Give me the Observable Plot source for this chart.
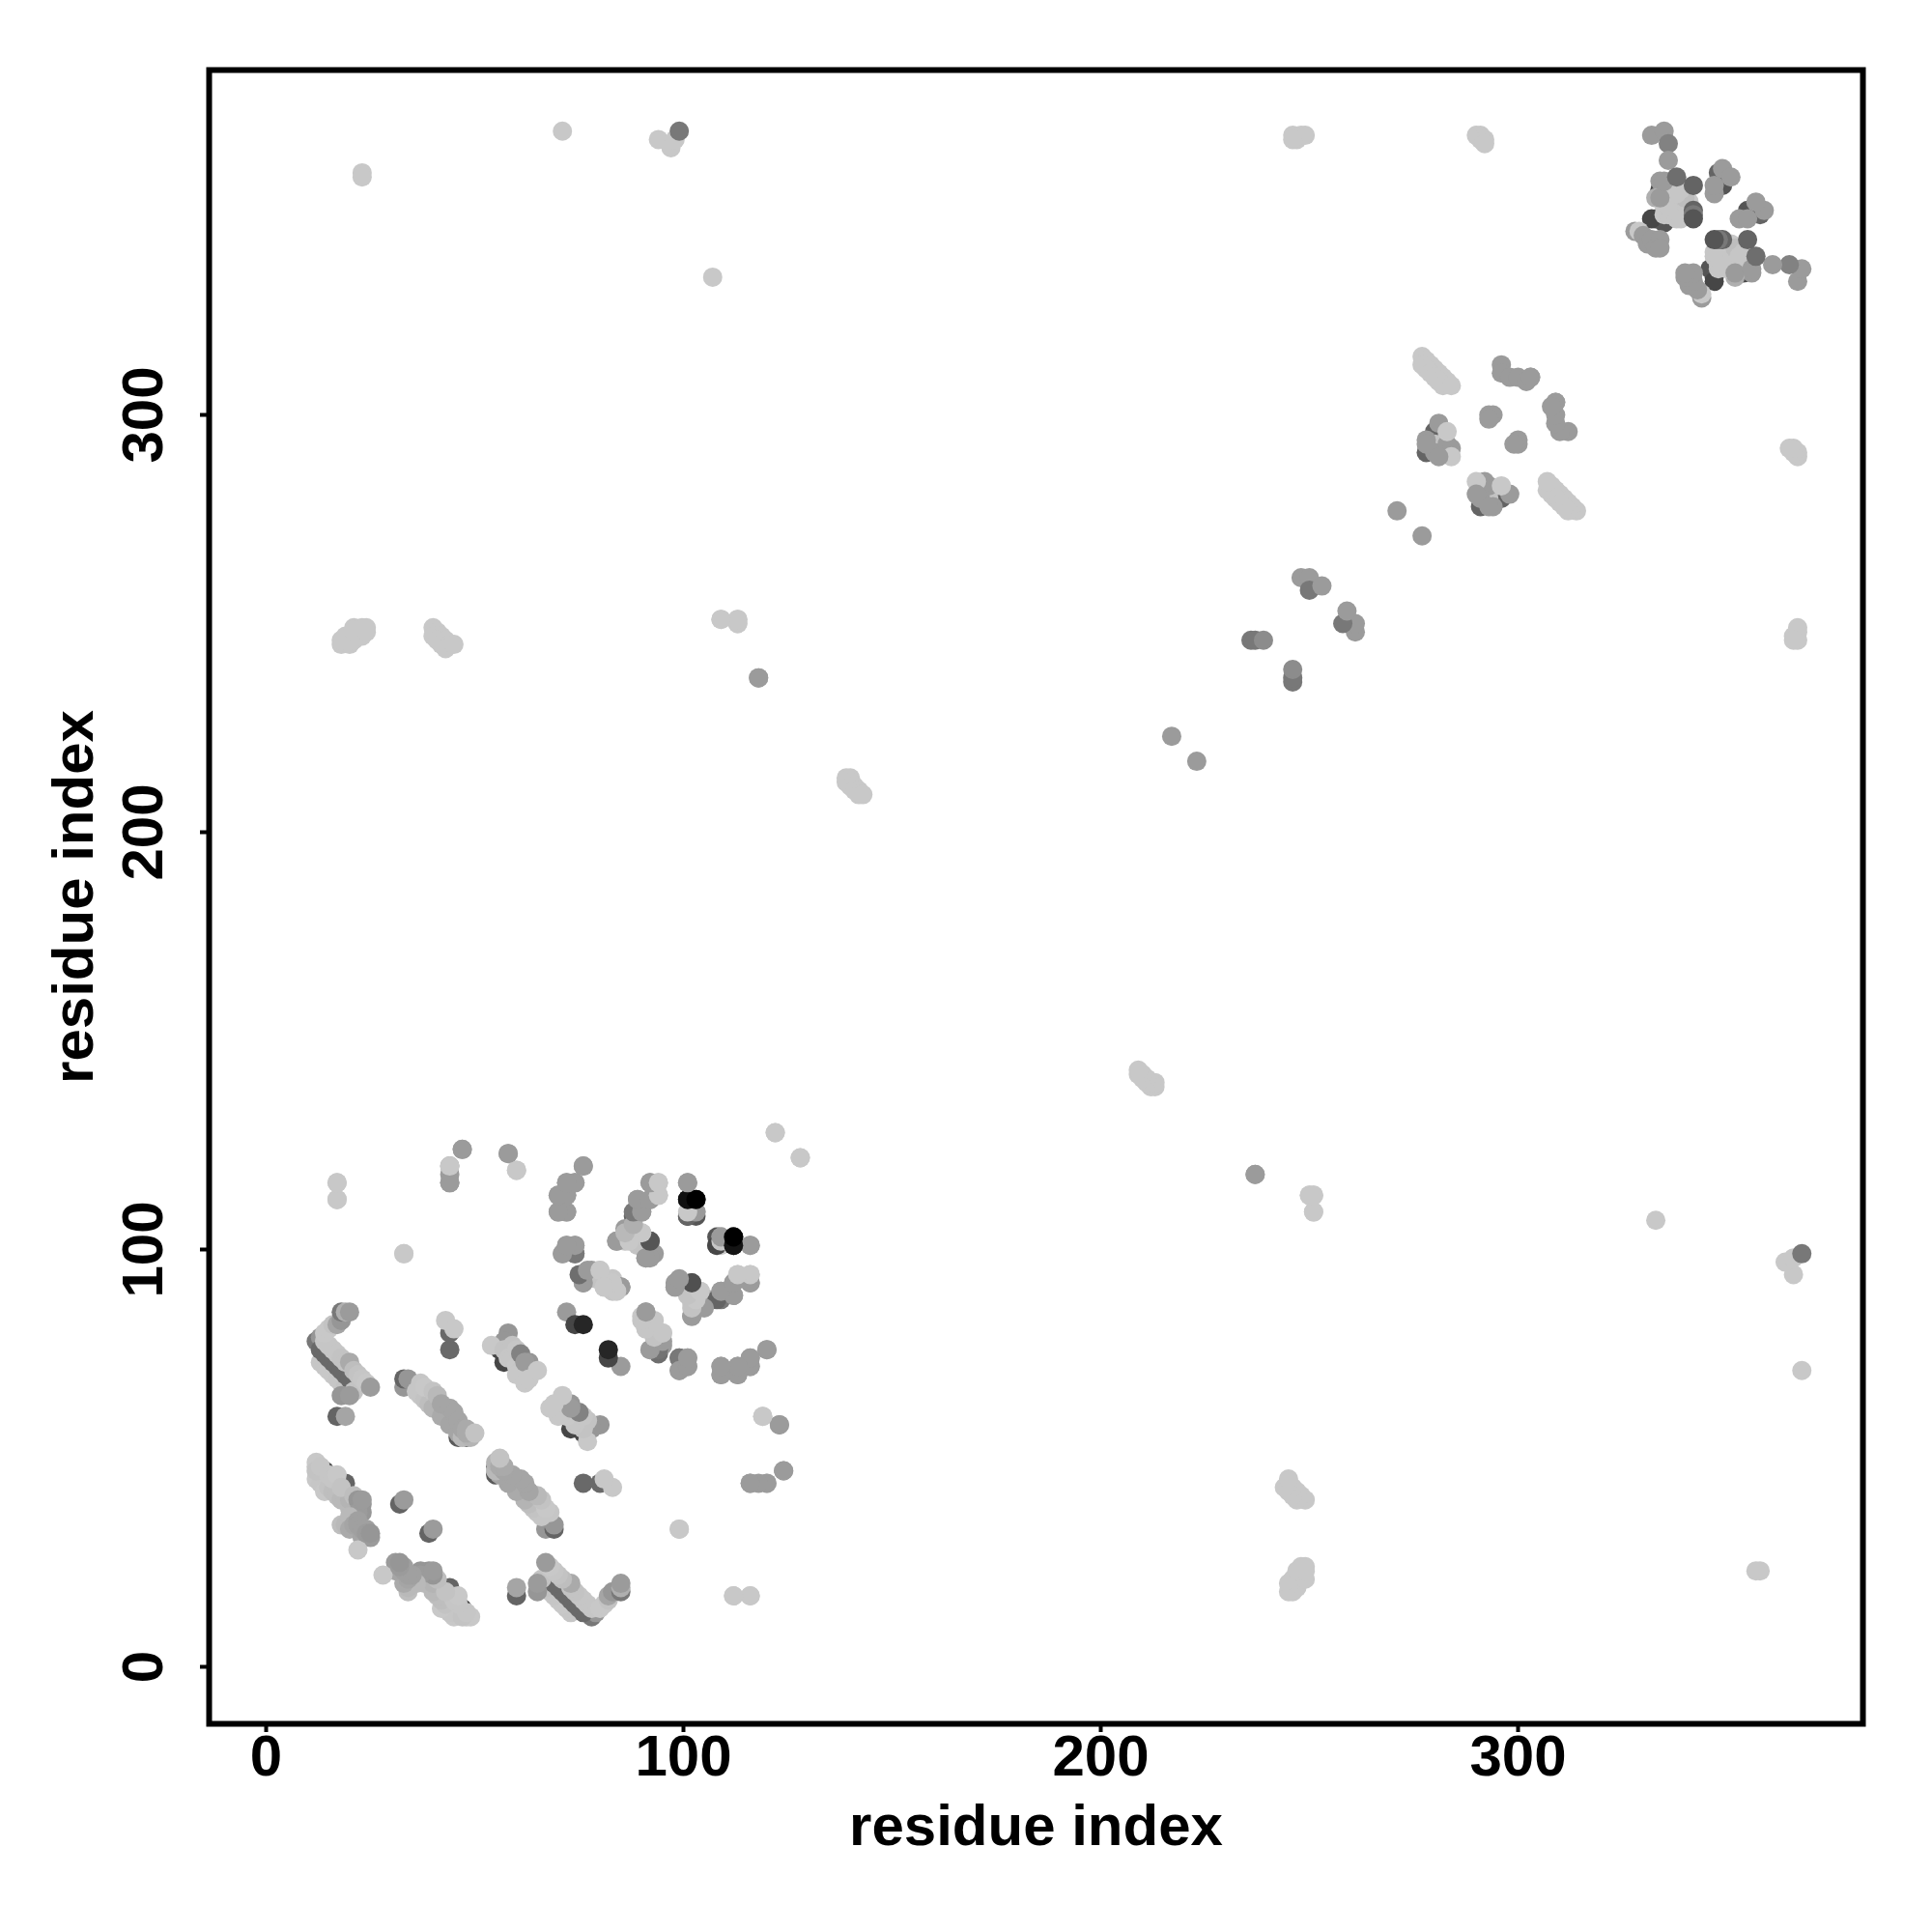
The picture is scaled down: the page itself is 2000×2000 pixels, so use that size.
<!DOCTYPE html>
<html>
<head>
<meta charset="utf-8">
<script src="https://cdn.jsdelivr.net/npm/d3@7"></script>
<script src="https://cdn.jsdelivr.net/npm/@observablehq/plot@0.6"></script>
<style>html,body{margin:0;padding:0;background:#fff}svg{display:block}</style>
</head>
<body>
<div id="chart"></div>
<script>
// contacts [i, j, gray]; the map is symmetric, so each is also drawn at [j, i]
const helixA = [[12,78,119],[13,79,150],[13,73,198],[13,76,105],[14,72,198],[14,75,105],[15,71,200],[15,74,105],[16,70,200],[16,73,105],[17,69,198],[17,72,105],[18,68,198],[18,71,105],[19,67,195],[19,70,105],[20,66,195],[20,69,105],[21,66,195],
  [14,78,198],[15,77,198],[16,76,198],[17,75,198],[18,74,195],[19,73,195],[20,73,170],[21,71,190],[22,70,195],[23,69,198],[24,68,200],
  [25,67,155],[14,80,200],[15,81,200],[16,82,195],[17,82,165],[18,83,150],[18,85,120],[19,85,175],[20,85,155],
  [18,65,150],[20,65,155],[17,60,100],[19,60,165]];
const helixB = [[33,67,150],[33,69,100],[34,69,150],[46,55,90],[48,55,110],
  [37,65,198],[36,66,198],[38,64,195],[39,63,190],[40,62,180],[42,60,170],[44,58,165],[46,56,165],[47,55,185],[49,55,180],
  [37,68,198],[38,67,200],[40,66,195],[41,65,185],[42,63,165],[44,62,165],[45,61,165],[46,59,165],[47,57,165],[48,56,170],[48,57,170],[50,56,195]];
const helixC = [[56,76,70],[57,73,70],[58,80,150],[57,78,150],[54,77,200],[57,76,195],[59,77,195],[58,74,198],[59,74,198],[60,72,200],[61,71,198],[60,70,200],[62,68,200],[60,76,198],
  [61,75,130],[63,73,150],[62,73,155],[63,69,200],[65,71,200]];
const helixF = [[14,47,70],[19,44,100],
  [12,45,200],[13,44,198],[14,42,200],[15,43,195],[16,42,190],[17,41,190],[18,40,185],[19,40,185],[20,38,185],[21,39,180],[20,40,180],
  [12,49,200],[12,48,200],[12,47,195],[13,48,198],[15,46,198],[16,45,198],[17,46,200],[18,43,195],[21,41,190],
  [22,40,150],[23,39,150],[23,37,150],[22,37,155],[23,40,155],[18,34,190],[19,34,185],[20,36,185],[20,33,170],[21,34,165],[22,35,160],[22,34,160],[23,31,165],[23,33,160],[25,31,155],[22,28,200],[24,33,160],[24,32,155],[25,32,150]];
const midContacts = [[32,39,100],[33,40,155],[17,116,200],[17,112,200],[44,120,155],[44,118,155],[44,116,155],[47,124,155],[58,123,155],[60,119,200],
  [44,76,105],[44,80,105],[43,83,200],[45,81,200],[33,99,200],[76,120,155],
  [72,116,155],[74,116,155],[70,113,155],[72,113,155],[70,109,155],[72,109,155],[74,99,120],[71,99,155],[72,101,155],[74,101,155],
  [76,94,115],[76,92,155],[78,95,155],[79,93,195],[81,91,198],[80,95,198],[83,93,198],[83,90,198],[85,91,155],
  [72,85,155],[74,82,70],[76,82,38],
  [88,108,100],[89,112,155],[90,109,155],[92,112,155],[92,116,155],[94,116,200],[94,113,200],
  [84,102,155],[86,105,155],[86,102,195],[88,103,200],[89,101,195],[90,104,200],[92,102,80],[91,98,155],[93,99,155],
  [101,116,155],[101,108,70],[102,109,198],[103,109,155],[101,112,20],[103,112,0]];
const lowerContacts = [[92,76,155],[94,75,110],[95,77,155],[91,85,155],[90,84,200],[92,83,200],[95,80,200],[91,81,200],
  [99,74,120],[101,74,155],[99,71,155],[101,72,155],[109,72,155],[109,70,155],[113,72,155],[113,70,155],[116,74,155],[116,72,155],[120,76,155],
  [98,92,155],[98,91,155],[102,92,85],[104,90,200],[102,84,155],[102,87,200],[104,86,185],[106,88,175],[109,88,120],[109,90,155],
  [112,89,155],[112,92,155],[113,94,200],[116,92,155],[116,94,200],[108,103,85],[108,101,100],[109,103,155],[109,101,200],[112,101,15],[112,103,0],[116,101,155],
  [119,60,200],[123,58,155],[124,47,155],[116,44,155],[120,44,200],[122,128,200],[128,122,200],[99,33,200],[112,17,200],[116,17,200]];
const farContacts = [[23,358,200],[23,357,200],[71,368,200],[94,366,200],[97,364,200],[98,366,200],[99,368,120],[107,333,200],
  [246,367,200],[247,366,200],[248,367,200],[249,367,200],[246,366,200],[290,367,200],[291,367,200],[291,366,200],[292,366,200],[292,365,200],
  [18,245,200],[19,246,200],[20,245,200],[18,246,200],[19,247,200],[20,247,200],[21,246,200],[21,248,200],[22,247,200],[21,249,200],[23,247,200],[23,249,200],[24,248,200],[24,249,200],
  [40,249,200],[41,248,200],[40,247,200],[42,247,200],[41,246,200],[43,246,200],[42,245,200],[44,245,200],[43,244,200],[45,245,200],
  [109,251,200],[113,250,200],[113,251,200],[118,237,155],[139,213,200],[139,212,200],[140,213,200],[140,212,200],[140,211,200],[141,211,200],[141,210,200],[142,210,200],[142,209,200],[143,209,200],
  [237,118,155],[250,113,200],[251,113,200],[251,109,200]];
const nearContacts = [[217,223,155],[236,246,120],[237,246,120],[239,246,140],[248,261,155],[250,261,155],[250,258,120],[253,259,155],[271,277,155],
  [277,314,200],[278,313,200],[279,312,200],[280,311,200],[281,310,200],[282,309,200],[283,308,200],[277,312,200],[278,311,200],[279,310,200],[280,309,200],[281,308,200],[282,307,200],[284,307,200],
  [296,312,155],[296,310,155],[298,309,155],[300,309,155],[303,309,155],[302,308,155],[309,303,155],
  [293,300,155],[294,300,155],[293,299,155],
  [278,291,100],[280,296,100],[280,293,195],[278,294,155],[280,291,155],[281,298,155],[283,293,155],[284,292,155],[283,296,200],[284,290,200],[278,293,155],[281,290,155]];
const clusterTop = [[332,367,155],[335,368,155],[336,365,130],[336,361,155],[334,354,70],[334,356,155],[333,352,175],
  [333,347,70],[335,346,85],[332,347,70],
  [337,353,198],[335,348,198],[335,350,198],[336,348,198],[337,350,185],[338,352,198],[338,350,198],[339,350,180],[340,349,198],[341,351,200],[340,352,190],[339,354,198],[338,347,198],[339,347,198],[336,350,198],[338,353,198],
  [334,352,155],[335,356,155],
  [338,357,110],[342,355,100],[342,349,100],[342,348,120],[342,347,85],
  [328,344,155],[329,344,200],[330,343,155],[331,341,155],[332,342,155],[334,342,155],[333,340,155],[334,340,155],
  [348,358,100],[349,355,85],[347,353,155],[347,355,155],[349,359,155],[351,357,155]];

const half = [...helixA, ...helixB, ...helixC, ...helixF, ...midContacts, ...lowerContacts, ...farContacts, ...nearContacts, ...clusterTop];
const contacts = [...half, ...half.map(([i, j, g]) => [j, i, g])];

const axisTicks = [0, 100, 200, 300];
const font = {fontFamily: "Liberation Sans", fontWeight: "bold", fontSize: 60};

const plot = Plot.plot({
  width: 2000, height: 2000,
  marginLeft: 216, marginRight: 72, marginTop: 72, marginBottom: 216,
  x: {domain: [-13.66, 382.64]},
  y: {domain: [-13.66, 382.64]},
  color: {type: "identity"},
  style: {background: "#fff"},
  marks: [
    Plot.axisX({ticks: axisTicks, tickSize: 9, tickPadding: 2, tickFormat: String, stroke: "#000", strokeWidth: 4,
      label: "residue index", labelAnchor: "center", labelArrow: "none", labelOffset: 125, fill: "#000", ...font}),
    Plot.axisY({ticks: axisTicks, tickSize: 9, tickPadding: 40, tickRotate: -90, tickFormat: String, stroke: "#000", strokeWidth: 4,
      label: "residue index", labelAnchor: "center", labelArrow: "none", labelOffset: 163, fill: "#000", ...font}),
    Plot.dot(contacts, {x: d => d[0], y: d => d[1], r: 10, fill: d => `rgb(${d[2]},${d[2]},${d[2]})`, stroke: "none"}),
    Plot.frame({stroke: "#000", strokeWidth: 6})
  ]
});
document.getElementById("chart").append(plot);
</script>
</body>
</html>
